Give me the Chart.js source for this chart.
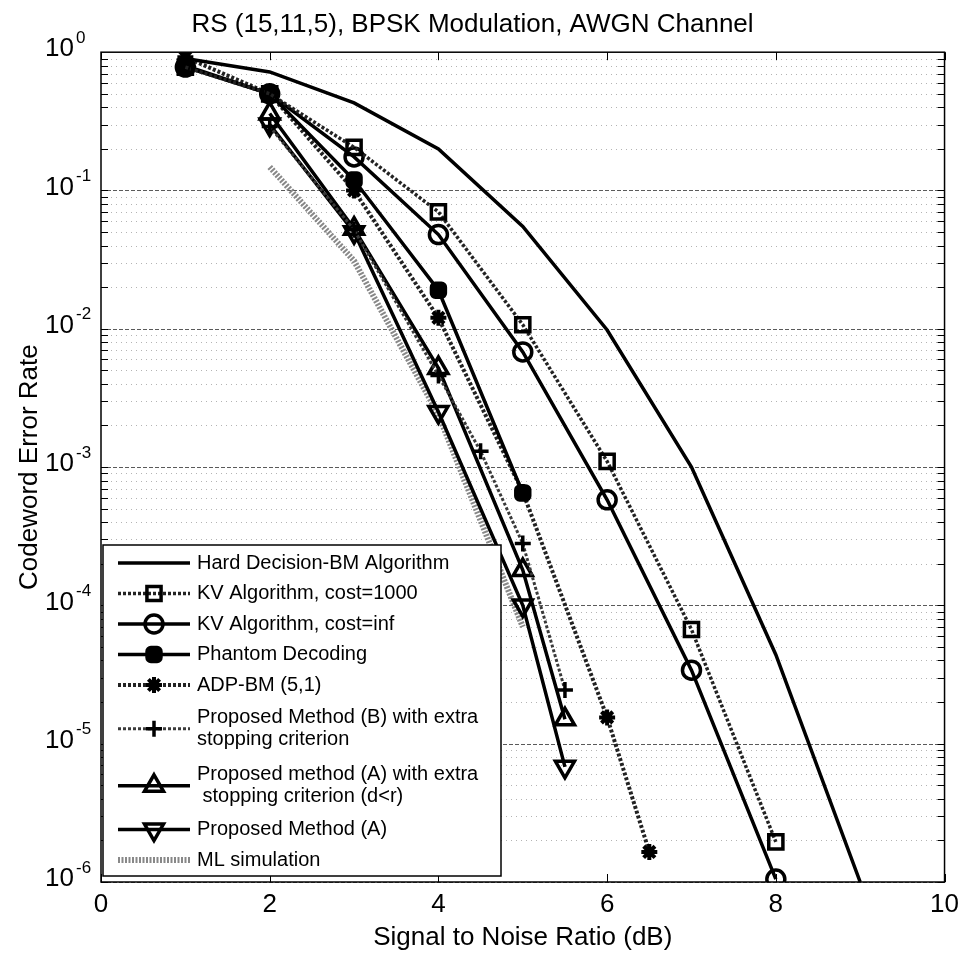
<!DOCTYPE html>
<html lang="en">
<head>
  <meta charset="UTF-8" />
  <title>RS (15,11,5), BPSK Modulation, AWGN Channel</title>
  <script src="https://cdn.jsdelivr.net/npm/chart.js"></script>
  <style>
    html, body { margin: 0; padding: 0; background: #fff; }
    #wrap { width: 966px; height: 956px; position: relative; }
  </style>
</head>
<body>
  <div id="wrap"><canvas id="ber"></canvas></div>

  <script>
    // SNR points (dB) for each curve
    const snrHard    = [1, 2, 3, 4, 5, 6, 7, 8, 9];
    const snrKV      = [1, 2, 3, 4, 5, 6, 7, 8];
    const snrPhantom = [1, 2, 3, 4, 5];
    const snrADP     = [1, 2, 3, 4, 5, 6, 6.5];
    const snrPropB   = [2, 3, 4, 4.5, 5, 5.5];
    const snrPropA   = [2, 3, 4, 5, 5.5];
    const snrML      = [2, 3, 4, 5];

    // codeword error rate
    const hardBM   = [0.9, 0.72, 0.43, 0.2, 0.055, 0.0098, 1.0e-3, 4.4e-5, 1.0e-6];
    const kv1000   = [0.78, 0.5, 0.205, 0.07, 0.0107, 1.1e-3, 6.7e-5, 1.95e-6];
    const kvInf    = [0.78, 0.5, 0.175, 0.048, 6.8e-3, 5.8e-4, 3.4e-5, 1.05e-6];
    const phantom  = [0.8, 0.5, 0.119, 0.019, 6.5e-4];
    const adpBM    = [0.92, 0.5, 0.1, 0.012, 6.6e-4, 1.55e-5, 1.65e-6];
    const propB    = [0.29, 0.052, 4.6e-3, 1.3e-3, 2.8e-4, 2.45e-5];
    const propAext = [0.36, 0.053, 5.2e-3, 1.8e-4, 1.5e-5];
    const propA    = [0.3, 0.05, 2.5e-3, 1.0e-4, 6.8e-6];
    const mlSim    = [0.148, 0.031, 2.4e-3, 7.0e-5];

    const xTicks = [0, 2, 4, 6, 8, 10];
    const yExponents = [0, -1, -2, -3, -4, -5, -6];

    const seriesNames = [
      'Hard Decision-BM Algorithm',
      'KV Algorithm, cost=1000',
      'KV Algorithm, cost=inf',
      'Phantom Decoding',
      'ADP-BM (5,1)',
      'Proposed Method (B) with extra\nstopping criterion',
      'Proposed method (A) with extra\n stopping criterion (d<r)',
      'Proposed Method (A)',
      'ML simulation'
    ];

    const pts = (xs, ys) => xs.map((x, i) => ({ x, y: ys[i] }));
    const FONT = '"Liberation Sans", Arial, Helvetica, sans-serif';
    const clear = 'rgba(0,0,0,0)';

    const datasets = [
      { label: seriesNames[0], data: pts(snrHard, hardBM), borderColor: '#000', borderWidth: 3.5, pointRadius: 0 },
      { label: seriesNames[1], data: pts(snrKV, kv1000), borderColor: '#222', borderWidth: 3.5, borderDash: [3, 2],
        pointStyle: 'rect', pointRadius: 10, pointBorderWidth: 3.5, pointBorderColor: '#000', pointBackgroundColor: clear },
      { label: seriesNames[2], data: pts(snrKV, kvInf), borderColor: '#000', borderWidth: 3.5,
        pointStyle: 'circle', pointRadius: 9, pointBorderWidth: 3.5, pointBorderColor: '#000', pointBackgroundColor: clear },
      { label: seriesNames[3], data: pts(snrPhantom, phantom), borderColor: '#000', borderWidth: 3.5,
        pointStyle: 'rectRounded', pointRadius: 9, pointBorderWidth: 2, pointBorderColor: '#000', pointBackgroundColor: '#000' },
      { label: seriesNames[4], data: pts(snrADP, adpBM), borderColor: '#222', borderWidth: 4, borderDash: [3, 2],
        pointStyle: 'star', pointRadius: 8, pointBorderWidth: 4, pointBorderColor: '#000', pointBackgroundColor: '#000' },
      { label: seriesNames[5], data: pts(snrPropB, propB), borderColor: '#3a3a3a', borderWidth: 3, borderDash: [3, 2],
        pointStyle: 'cross', pointRadius: 8, pointBorderWidth: 3.5, pointBorderColor: '#000', pointBackgroundColor: clear },
      { label: seriesNames[6], data: pts(snrPropA, propAext), borderColor: '#000', borderWidth: 3.5,
        pointStyle: 'triangle', pointRadius: 11, pointBorderWidth: 3.5, pointBorderColor: '#000', pointBackgroundColor: clear },
      { label: seriesNames[7], data: pts(snrPropA, propA), borderColor: '#000', borderWidth: 3.5,
        pointStyle: 'triangle', pointRotation: 180, pointRadius: 11, pointBorderWidth: 3.5, pointBorderColor: '#000', pointBackgroundColor: clear },
      { label: seriesNames[8], data: pts(snrML, mlSim), borderColor: '#888', borderWidth: 6, borderDash: [2, 1.5], pointRadius: 0 }
    ];
    datasets.forEach(d => { d.fill = false; d.tension = 0; d.showLine = true; });

    function seg(ctx, x1, y1, x2, y2) {
      ctx.beginPath(); ctx.moveTo(x1, y1); ctx.lineTo(x2, y2); ctx.stroke();
    }

    // grid, box, inward ticks, y labels with superscripts, legend inside the plot
    const decor = {
      id: 'decor',
      beforeDatasetsDraw(chart) {
        const { ctx, chartArea: a, scales: { y } } = chart;
        ctx.save();
        ctx.lineWidth = 1;
        for (let e = -6; e < 0; e++) {
          for (let k = 1; k < 10; k++) {
            const py = Math.round(y.getPixelForValue(k * Math.pow(10, e))) + 0.5;
            ctx.strokeStyle = k === 1 ? '#5a5a5a' : '#b4b4b4';
            ctx.setLineDash(k === 1 ? [4, 2] : [1, 4]);
            seg(ctx, a.left, py, a.right, py);
          }
        }
        ctx.restore();
      },
      afterDatasetsDraw(chart) {
        const { ctx, chartArea: a, scales: { x, y } } = chart;
        ctx.save();
        ctx.strokeStyle = '#000';
        ctx.lineWidth = 1;
        ctx.setLineDash([]);
        // inward ticks
        xTicks.forEach(v => {
          const px = Math.round(x.getPixelForValue(v)) + 0.5;
          seg(ctx, px, a.bottom, px, a.bottom - 8);
          seg(ctx, px, a.top, px, a.top + 8);
        });
        for (let e = -6; e < 0; e++) {
          for (let k = 1; k < 10; k++) {
            const py = Math.round(y.getPixelForValue(k * Math.pow(10, e))) + 0.5;
            seg(ctx, a.left, py, a.left + 7, py);
            seg(ctx, a.right, py, a.right - 7, py);
          }
        }
        // axes box
        ctx.lineWidth = 1.5;
        ctx.strokeRect(a.left, a.top, a.right - a.left, a.bottom - a.top);

        // y tick labels: 10 with a raised exponent
        ctx.fillStyle = '#000';
        ctx.textBaseline = 'middle';
        yExponents.forEach(e => {
          const py = y.getPixelForValue(Math.pow(10, e));
          ctx.font = '26px ' + FONT;
          ctx.textAlign = 'right';
          ctx.fillText('10', a.left - 27, py - 3);
          ctx.font = '17px ' + FONT;
          ctx.textAlign = 'left';
          ctx.fillText(String(e), a.left - 25, py - 14);
        });

        // legend
        const box = { left: a.left + 2, top: 545, right: 501, bottom: 876 };
        ctx.fillStyle = '#fff';
        ctx.fillRect(box.left, box.top, box.right - box.left, box.bottom - box.top);
        ctx.lineWidth = 1.5;
        ctx.strokeStyle = '#000';
        ctx.strokeRect(box.left, box.top, box.right - box.left, box.bottom - box.top);

        let cy = box.top + 18, prevH = 0;
        chart.data.datasets.forEach((ds, i) => {
          const lines = ds.label.split('\n');
          const h = lines.length > 1 ? 57 : 30.5;
          if (i > 0) cy += prevH / 2 + h / 2;
          prevH = h;

          ctx.strokeStyle = ds.borderColor;
          ctx.lineWidth = ds.borderWidth;
          ctx.setLineDash(ds.borderDash || []);
          seg(ctx, box.left + 15, cy, box.left + 87, cy);
          ctx.setLineDash([]);
          if (ds.pointRadius > 0) {
            ctx.lineWidth = ds.pointBorderWidth;
            ctx.strokeStyle = ds.pointBorderColor;
            ctx.fillStyle = ds.pointBackgroundColor;
            Chart.helpers.drawPoint(ctx, {
              pointStyle: ds.pointStyle, radius: ds.pointRadius,
              rotation: ds.pointRotation || 0, borderWidth: ds.pointBorderWidth
            }, box.left + 51, cy);
          }
          ctx.fillStyle = '#000';
          ctx.font = '20px ' + FONT;
          ctx.textAlign = 'left';
          ctx.textBaseline = 'middle';
          if (lines.length > 1) {
            ctx.fillText(lines[0], box.left + 94, cy - 11);
            ctx.fillText(lines[1], box.left + 94, cy + 11);
          } else {
            ctx.fillText(lines[0], box.left + 94, cy);
          }
        });
        ctx.restore();
      }
    };

    Chart.defaults.color = '#000';
    Chart.defaults.font.family = FONT;

    new Chart(document.getElementById('ber'), {
      type: 'line',
      data: { datasets },
      options: {
        responsive: true,
        maintainAspectRatio: false,
        animation: false,
        layout: { padding: { top: 0, right: 21, bottom: 0, left: 0 } },
        plugins: {
          legend: { display: false },
          tooltip: { enabled: false },
          title: {
            display: true,
            text: 'RS (15,11,5), BPSK Modulation, AWGN Channel',
            font: { size: 26, weight: 'normal' },
            padding: { top: 9, bottom: 12 }
          }
        },
        scales: {
          x: {
            type: 'linear',
            min: 0, max: 10,
            afterBuildTicks: s => { s.ticks = xTicks.map(v => ({ value: v })); },
            afterFit: s => { s.height = 74; },
            grid: { display: false, drawTicks: false },
            border: { display: false },
            ticks: { font: { size: 26 }, padding: 7 },
            title: {
              display: true, text: 'Signal to Noise Ratio (dB)',
              font: { size: 26 }, padding: { top: 0, bottom: 3 }
            }
          },
          y: {
            type: 'logarithmic',
            min: 1e-6, max: 1,
            afterFit: s => { s.width = 101; },
            grid: { display: false, drawTicks: false },
            border: { display: false },
            ticks: { display: false },
            title: {
              display: true, text: 'Codeword Error Rate',
              font: { size: 26 }, padding: { top: 14, bottom: 0 }
            }
          }
        }
      },
      plugins: [decor]
    });
  </script>
</body>
</html>
